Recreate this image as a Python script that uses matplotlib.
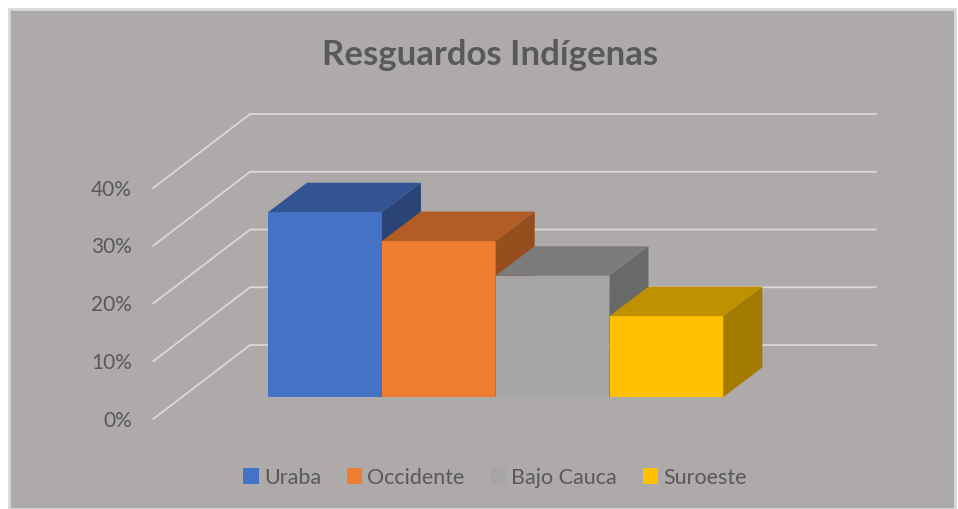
import matplotlib
matplotlib.use("Agg")
import matplotlib.pyplot as plt
from matplotlib.patches import Polygon, Rectangle

plt.rcParams['font.family'] = ['Lato', 'DejaVu Sans']

# values
regions = ["Uraba", "Occidente", "Bajo Cauca", "Suroeste"]
shares = [32, 27, 21, 14]
ticks = [0, 10, 20, 30, 40]
tick_labels = ["0%", "10%", "20%", "30%", "40%"]

front_colors = ["#4472C4", "#ED7D31", "#A5A5A5", "#FFC000"]
top_colors = ["#325492", "#B35D25", "#7C7C7C", "#BF9000"]
side_colors = ["#2A4478", "#964E1F", "#696969", "#A37B00"]

bg = "#AEAAA9"
grid_color = "#D9D9D9"
text_color = "#595959"

# one unit on x is one bar (113.8 px), one unit on y is one percent (5.775 px)
px_x = 113.8
px_y = 5.775
dx = 39 / px_x
dy = 29.5 / px_y

fig = plt.figure(figsize=(9.58, 5.10), dpi=100, facecolor="white")
fig.patches.append(Rectangle((9 / 958, 0.5 / 510), 946 / 958, 500 / 510, transform=fig.transFigure,
                             facecolor=bg, edgecolor="#D9D9D9", linewidth=2, zorder=-1))
ax = fig.add_axes([0, 0, 1, 1])
ax.set_xlim(-325 / px_x, 633 / px_x)
ax.set_ylim(-112 / px_y, 398 / px_y)
ax.axis("off")

# gridlines run from the front edge back along the floor, then across the back wall
grid_front_x = -1.509
grid_back_x = -0.658
grid_end_x = 4.84
for t, lab in zip(ticks, tick_labels):
    ax.plot([grid_front_x, grid_back_x, grid_end_x], [t - 3.8, t + 9.0, t + 9.0],
            color=grid_color, lw=1.3, zorder=1, solid_joinstyle="miter")
    ax.text(grid_front_x - 0.19, t - 3.8 - 0.1, lab, ha="right", va="center",
            fontsize=15, color=text_color)

# left to right so each bar covers the side of the one before it
for i, v in enumerate(shares):
    l = i - 0.5
    r = i + 0.5
    ax.bar(i, v, width=1, color=front_colors[i], zorder=3 + i)
    ax.add_patch(Polygon([(l, v), (l + dx, v + dy), (r + dx, v + dy), (r, v)],
                         facecolor=top_colors[i], edgecolor="none", zorder=3 + i))
    ax.add_patch(Polygon([(r, 0), (r + dx, dy), (r + dx, v + dy), (r, v)],
                         facecolor=side_colors[i], edgecolor="none", zorder=3 + i))

fig.text(490 / 958, 1 - 55 / 510, "Resguardos Indígenas", ha="center", va="center",
         fontsize=25, fontweight="bold", color=text_color)

handles = [Rectangle((0, 0), 1, 1, facecolor=c, edgecolor="none") for c in front_colors]
fig.legend(handles, regions, ncols=4, loc="center", bbox_to_anchor=(495 / 958, 1 - 478.5 / 510),
           frameon=False, fontsize=15.5, labelcolor=text_color, handlelength=0.7, handleheight=0.7,
           handletextpad=0.25, columnspacing=1.2)

fig.savefig("out.png", dpi=100, facecolor="white")
